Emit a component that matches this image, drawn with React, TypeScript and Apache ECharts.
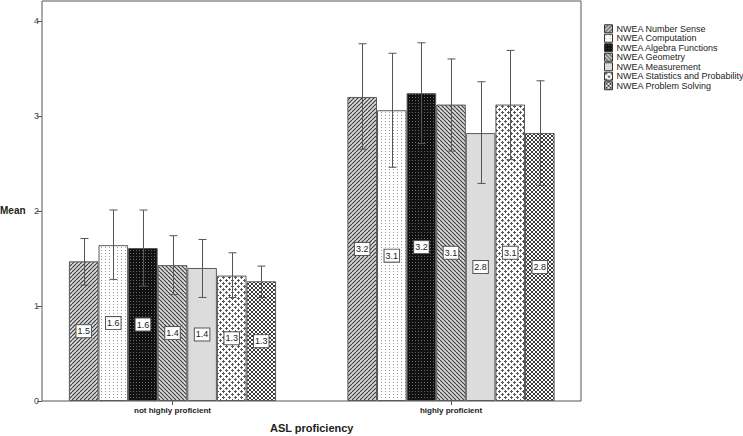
import React, { useEffect, useRef } from 'react';
import * as echarts from 'echarts';

const categories = ['not highly proficient', 'highly proficient'];
const seriesNames = [
  'NWEA Number Sense',
  'NWEA Computation',
  'NWEA Algebra Functions',
  'NWEA Geometry',
  'NWEA Measurement',
  'NWEA Statistics and Probability',
  'NWEA Problem Solving',
];
const numberSense = [1.47, 3.2];
const computation = [1.64, 3.06];
const algebraFunctions = [1.61, 3.24];
const geometry = [1.43, 3.12];
const measurement = [1.4, 2.82];
const statistics = [1.32, 3.12];
const problemSolving = [1.26, 2.82];
const means = [numberSense, computation, algebraFunctions, geometry, measurement, statistics, problemSolving];

const errLow = [
  [1.22, 2.65],
  [1.28, 2.46],
  [1.21, 2.71],
  [1.12, 2.63],
  [1.09, 2.29],
  [1.09, 2.54],
  [1.09, 2.27],
];
const errHigh = [
  [1.71, 3.76],
  [2.01, 3.66],
  [2.01, 3.77],
  [1.74, 3.6],
  [1.7, 3.36],
  [1.56, 3.69],
  [1.42, 3.37],
];
const yTicks = [0, 1, 2, 3, 4];

const BAR_W = 29.6;

function pat(w: number, h: number, draw: (ctx: CanvasRenderingContext2D) => void) {
  const c = document.createElement('canvas');
  c.width = w;
  c.height = h;
  const ctx = c.getContext('2d') as CanvasRenderingContext2D;
  draw(ctx);
  return { image: c, repeat: 'repeat', imageWidth: w, imageHeight: h } as any;
}

function makePatterns() {
  const diag = (dir: number, bg: string, fg: string) =>
    pat(4, 4, (ctx) => {
      ctx.fillStyle = bg;
      ctx.fillRect(0, 0, 4, 4);
      ctx.strokeStyle = fg;
      ctx.lineWidth = 1.1;
      ctx.beginPath();
      for (let k = -8; k <= 8; k += 4) {
        if (dir > 0) {
          ctx.moveTo(k, 4);
          ctx.lineTo(k + 4, 0);
        } else {
          ctx.moveTo(k, 0);
          ctx.lineTo(k + 4, 4);
        }
      }
      ctx.stroke();
    });
  const ns = diag(1, '#dadada', '#3a3a3a');
  const comp = pat(4, 3, (ctx) => {
    ctx.fillStyle = '#ffffff';
    ctx.fillRect(0, 0, 4, 3);
    ctx.fillStyle = '#9a9a9a';
    ctx.fillRect(1, 1, 1, 1);
  });
  const alg = pat(3, 3, (ctx) => {
    ctx.fillStyle = '#111111';
    ctx.fillRect(0, 0, 3, 3);
    ctx.fillStyle = '#6a6a6a';
    ctx.fillRect(1, 1, 1, 1);
  });
  const geo = diag(-1, '#dadada', '#3a3a3a');
  const meas = '#dcdcdc';
  const stat = pat(6, 6, (ctx) => {
    ctx.fillStyle = '#ffffff';
    ctx.fillRect(0, 0, 6, 6);
    ctx.fillStyle = '#5a5a5a';
    const plus = (cx: number, cy: number) => {
      ctx.fillRect(cx - 1, cy, 3, 1);
      ctx.fillRect(cx, cy - 1, 1, 3);
    };
    plus(1, 1);
    plus(4, 4);
  });
  const ps = pat(4, 4, (ctx) => {
    ctx.fillStyle = '#ffffff';
    ctx.fillRect(0, 0, 4, 4);
    ctx.strokeStyle = '#3a3a3a';
    ctx.lineWidth = 1;
    ctx.beginPath();
    for (let k = -8; k <= 8; k += 4) {
      ctx.moveTo(k, 4);
      ctx.lineTo(k + 4, 0);
      ctx.moveTo(k, 0);
      ctx.lineTo(k + 4, 4);
    }
    ctx.stroke();
  });
  return [ns, comp, alg, geo, meas, stat, ps];
}

export default function App() {
  const ref = useRef<HTMLDivElement>(null);
  useEffect(() => {
    if (!ref.current) return;
    const chart = echarts.init(ref.current, undefined, { renderer: 'svg' });
    const patterns = makePatterns();
    const font = 'Liberation Sans, Arial, sans-serif';

    const barSeries = seriesNames.map((name, i) => ({
      name,
      type: 'bar',
      xAxisIndex: 0,
      yAxisIndex: 0,
      barWidth: BAR_W,
      barGap: '0%',
      data: means[i],
      itemStyle: { color: patterns[i], borderColor: '#5a5a5a', borderWidth: 1 },
      label: {
        show: true,
        position: 'inside',
        formatter: (p: any) => Number(p.value).toFixed(1),
        backgroundColor: '#ffffff',
        borderColor: '#555555',
        borderWidth: 1,
        padding: [2, 1, 1, 1],
        fontSize: 9,
        color: '#222222',
        fontFamily: font,
      },
    }));

    const errData: any[] = [];
    for (let s = 0; s < seriesNames.length; s++) {
      for (let c = 0; c < categories.length; c++) {
        errData.push([c, s, errLow[s][c], errHigh[s][c]]);
      }
    }

    const errSeries = {
      name: 'err',
      type: 'custom',
      xAxisIndex: 0,
      yAxisIndex: 0,
      z: 5,
      encode: { x: 0, y: [2, 3] },
      data: errData,
      renderItem: (params: any, api: any) => {
        const cat = api.value(0);
        const idx = api.value(1);
        const lo = api.coord([cat, api.value(2)]);
        const hi = api.coord([cat, api.value(3)]);
        const x = Math.round(lo[0] + (idx - 3) * BAR_W) + 0.5;
        const style = { stroke: '#555555', lineWidth: 1 };
        return {
          type: 'group',
          children: [
            { type: 'line', shape: { x1: x, y1: lo[1], x2: x, y2: hi[1] }, style },
            { type: 'line', shape: { x1: x - 4, y1: hi[1], x2: x + 4, y2: hi[1] }, style },
            { type: 'line', shape: { x1: x - 4, y1: lo[1], x2: x + 4, y2: lo[1] }, style },
          ],
        };
      },
    };

    chart.setOption({
      animation: false,
      backgroundColor: '#ffffff',
      textStyle: { fontFamily: font },
      grid: [
        { left: 33.25, top: 1, width: 557, height: 400, show: false },
        {
          left: 42,
          top: 1,
          width: 539,
          height: 400,
          show: true,
          borderColor: '#555555',
          borderWidth: 1,
          backgroundColor: 'transparent',
        },
      ],
      xAxis: [
        {
          type: 'category',
          gridIndex: 0,
          data: categories,
          axisLine: { show: false },
          axisTick: { show: true, alignWithLabel: true, length: 4, lineStyle: { color: '#555555' } },
          axisLabel: { fontSize: 8, fontWeight: 'bold', color: '#222222', margin: 5, fontFamily: font },
          splitLine: { show: false },
        },
        {
          type: 'value',
          gridIndex: 1,
          min: 0,
          max: 1,
          show: false,
        },
      ],
      yAxis: [
        { type: 'value', gridIndex: 0, min: 0, max: 4.21, show: false },
        {
          type: 'value',
          gridIndex: 1,
          min: 0,
          max: 4.21,
          axisLine: { show: false },
          axisTick: { show: true, length: 5, customValues: yTicks, lineStyle: { color: '#555555' } },
          axisLabel: { customValues: yTicks, fontSize: 9, color: '#444444', margin: 3, fontFamily: font },
          splitLine: { show: false },
        },
      ],
      legend: {
        data: seriesNames,
        orient: 'vertical',
        left: 604,
        top: 24,
        padding: 0,
        itemGap: 0,
        itemWidth: 8,
        itemHeight: 8,
        icon: 'rect',
        itemStyle: { borderColor: '#333333', borderWidth: 1 },
        textStyle: { fontSize: 9, color: '#222222', lineHeight: 9.5, fontFamily: font, padding: [0, 0, 0, -1] },
      },
      graphic: [
        {
          type: 'text',
          left: 0,
          top: 205,
          style: { text: 'Mean', fontSize: 10, fontWeight: 'bold', fill: '#222222', fontFamily: font },
        },
        {
          type: 'text',
          x: 311.7,
          y: 428,
          style: {
            text: 'ASL proficiency',
            fontSize: 11,
            fontWeight: 'bold',
            fill: '#222222',
            fontFamily: font,
            align: 'center',
            verticalAlign: 'middle',
          },
        },
      ],
      series: [...barSeries, errSeries],
    });
    return () => chart.dispose();
  }, []);
  return (
    <div
      ref={ref}
      style={{ position: 'fixed', left: 0, top: 0, width: 743, height: 436, background: '#ffffff' }}
    />
  );
}
